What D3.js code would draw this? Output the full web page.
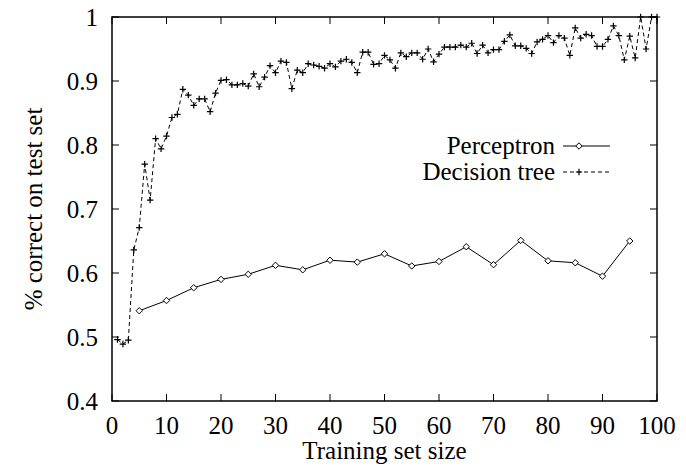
<!DOCTYPE html>
<html><head><meta charset="utf-8">
<script src="https://cdn.jsdelivr.net/npm/d3@7"></script>
<style>body{margin:0;background:#fff}svg{display:block}</style>
</head><body>
<svg id="c" width="686" height="466"></svg>
<script>
const xTicks = [0,10,20,30,40,50,60,70,80,90,100];
const yTicks = [0.4,0.5,0.6,0.7,0.8,0.9,1];
const yTickLabels = ["0.4","0.5","0.6","0.7","0.8","0.9","1"];
const perceptronX = [5,10,15,20,25,30,35,40,45,50,55,60,65,70,75,80,85,90,95];
const perceptronY = [0.541,0.557,0.577,0.590,0.598,0.612,0.605,0.620,0.617,0.630,0.611,0.618,0.641,0.613,0.651,0.619,0.616,0.595,0.650];
const treeX = d3.range(1,101);
const treeY = [0.496,0.489,0.495,0.636,0.671,0.770,0.714,0.810,0.794,0.814,
0.843,0.848,0.887,0.878,0.862,0.872,0.872,0.852,0.881,0.901,
0.902,0.894,0.894,0.896,0.892,0.911,0.891,0.906,0.924,0.913,
0.931,0.929,0.888,0.917,0.913,0.927,0.925,0.923,0.920,0.927,
0.922,0.931,0.934,0.929,0.913,0.945,0.945,0.926,0.927,0.940,
0.933,0.920,0.944,0.938,0.944,0.944,0.934,0.950,0.930,0.942,
0.953,0.953,0.953,0.956,0.953,0.959,0.943,0.956,0.944,0.949,
0.949,0.962,0.972,0.955,0.955,0.951,0.943,0.961,0.965,0.971,
0.960,0.971,0.967,0.940,0.983,0.967,0.973,0.971,0.954,0.954,
0.965,0.986,0.971,0.933,0.970,0.936,1.0,0.950,1.0,1.0];
const seriesNames = ["Perceptron","Decision tree"];
const xLabel = "Training set size";
const yLabel = "% correct on test set";

const svg = d3.select("#c");
const L=112, R=657, T=17, B=401;
const x = d3.scaleLinear().domain([0,100]).range([L,R]);
const y = d3.scaleLinear().domain([0.4,1]).range([B,T]);
const font = "'Liberation Serif','Times New Roman',serif";
const fs = 25;

const tl = 7;
const g = svg.append("g").attr("stroke","#000").attr("stroke-width",1);
xTicks.forEach(t=>{
  g.append("line").attr("x1",x(t)).attr("x2",x(t)).attr("y1",B).attr("y2",B-tl);
  g.append("line").attr("x1",x(t)).attr("x2",x(t)).attr("y1",T).attr("y2",T+tl);
});
yTicks.forEach(t=>{
  g.append("line").attr("x1",L).attr("x2",L+tl).attr("y1",y(t)).attr("y2",y(t));
  g.append("line").attr("x1",R).attr("x2",R-tl).attr("y1",y(t)).attr("y2",y(t));
});
svg.append("rect").attr("x",L).attr("y",T).attr("width",R-L).attr("height",B-T)
  .attr("fill","none").attr("stroke","#000").attr("stroke-width",1.5);

svg.append("g").selectAll("text").data(xTicks).join("text")
  .attr("x",d=>x(d)).attr("y",B+33).attr("text-anchor","middle")
  .attr("font-family",font).attr("font-size",fs).text(d=>d);
svg.append("g").selectAll("text").data(yTicks).join("text")
  .attr("x",L-14).attr("y",d=>y(d)).attr("dy","0.35em").attr("text-anchor","end")
  .attr("font-family",font).attr("font-size",fs).text((d,i)=>yTickLabels[i]);

svg.append("text").attr("x",(L+R)/2).attr("y",459).attr("text-anchor","middle")
  .attr("font-family",font).attr("font-size",fs).text(xLabel);
svg.append("text").attr("transform",`translate(33,${(T+B)/2}) rotate(-90)`)
  .attr("text-anchor","middle").attr("dy","0.35em")
  .attr("font-family",font).attr("font-size",fs).text(yLabel);

const pData = perceptronX.map((d,i)=>[d,perceptronY[i]]);
const tData = treeX.map((d,i)=>[d,treeY[i]]);
const line = d3.line().x(d=>x(d[0])).y(d=>y(d[1]));
svg.append("path").datum(tData).attr("d",line).attr("fill","none")
  .attr("stroke","#000").attr("stroke-width",1).attr("stroke-dasharray","4,3");
svg.append("path").datum(pData).attr("d",line).attr("fill","none")
  .attr("stroke","#000").attr("stroke-width",1);

const ds=3.2, ps=3.2;
function diamond(sel,cx,cy){
  sel.append("path").attr("d",`M${cx},${cy-ds}L${cx+ds},${cy}L${cx},${cy+ds}L${cx-ds},${cy}Z`)
   .attr("fill","#fff").attr("stroke","#000").attr("stroke-width",1);
}
function plus(sel,cx,cy){
  sel.append("path").attr("d",`M${cx-ps},${cy}H${cx+ps}M${cx},${cy-ps}V${cy+ps}`)
   .attr("stroke","#000").attr("stroke-width",1.2);
}
const mk = svg.append("g");
tData.forEach(d=>plus(mk,x(d[0]),y(d[1])));
pData.forEach(d=>diamond(mk,x(d[0]),y(d[1])));

const lg = svg.append("g");
const ly = [146,172];
seriesNames.forEach((n,i)=>{
  lg.append("text").attr("x",555).attr("y",ly[i]+8).attr("text-anchor","end")
    .attr("font-family",font).attr("font-size",fs).text(n);
  lg.append("line").attr("x1",563).attr("x2",610).attr("y1",ly[i]).attr("y2",ly[i])
    .attr("stroke","#000").attr("stroke-width",1).attr("stroke-dasharray",i===1?"4,3":null);
});
diamond(lg,579,ly[0]);
plus(lg,579,ly[1]);
</script>
</body></html>
